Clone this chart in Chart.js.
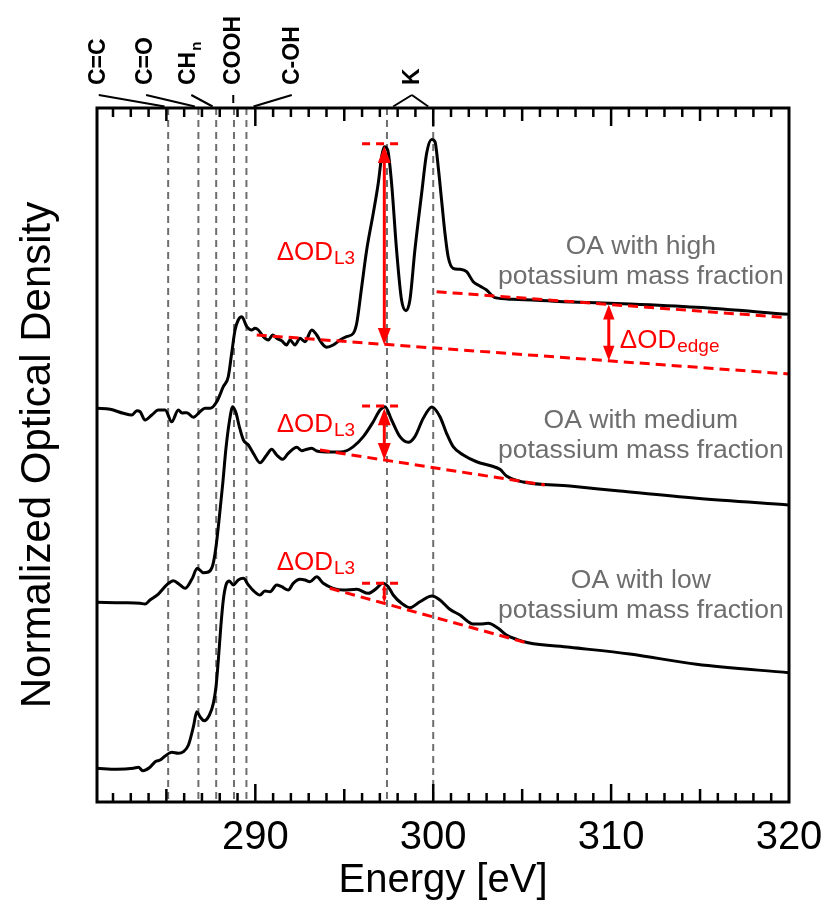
<!DOCTYPE html>
<html>
<head>
<meta charset="utf-8">
<script src="https://cdn.jsdelivr.net/npm/chart.js@4.4.1/dist/chart.umd.min.js"></script>
<style>
  html, body { margin: 0; padding: 0; background: #fff; }
</style>
</head>
<body>
<canvas id="xanesChart" width="826" height="909"></canvas>
<script>
// photon energy (eV) and normalized OD
var highE = [281.1, 281.84, 282.58, 283.06, 283.34, 283.52, 283.8, 284.18, 284.55, 284.93,
    285.3, 285.67, 285.88, 286.15, 286.52, 286.89, 287.17, 287.46, 287.83, 288.2,
    288.48, 288.67, 288.86, 289.04, 289.24, 289.52, 289.8, 289.98, 290.17, 290.45,
    290.73, 290.98, 291.2, 291.48, 291.76, 291.95, 292.23, 292.51, 292.79, 293.17,
    293.45, 293.73, 294.01, 294.38, 294.76, 295.13, 295.51, 295.7, 295.98, 296.26,
    296.63, 296.91, 297.1, 297.25, 297.44, 297.66, 297.94, 298.22, 298.47, 298.69,
    298.97, 299.35, 299.63, 299.91, 300.1, 300.28, 300.47, 300.66, 300.84, 301.12,
    301.5, 301.88, 302.25, 302.62, 303.0, 303.47, 304.49, 307.3, 311.05, 314.8,
    320.0];
var highOD = [5.673, 5.659, 5.601, 5.576, 5.638, 5.624, 5.504, 5.576, 5.648, 5.648,
    5.48, 5.648, 5.605, 5.61, 5.543, 5.624, 5.673, 5.673, 5.768, 5.984,
    6.128, 6.465, 6.801, 6.945, 6.993, 6.849, 6.801, 6.826, 6.801, 6.705,
    6.657, 6.729, 6.681, 6.647, 6.585, 6.657, 6.585, 6.681, 6.633, 6.801,
    6.729, 6.614, 6.552, 6.585, 6.657, 6.705, 6.754, 6.898, 7.425, 7.954,
    8.483, 8.915, 9.298, 9.442, 9.395, 8.915, 7.954, 7.233, 7.079, 7.233,
    7.954, 8.771, 9.347, 9.546, 9.514, 9.154, 8.674, 8.195, 7.857, 7.69,
    7.676, 7.641, 7.497, 7.435, 7.378, 7.267, 7.244, 7.209, 7.176, 7.128,
    7.027];

var medE = [281.1, 282.58, 283.52, 283.8, 284.08, 284.55, 285.02, 285.39, 285.77, 286.05,
    286.43, 286.74, 287.08, 287.36, 287.61, 287.79, 287.98, 288.17, 288.35, 288.54,
    288.73, 288.92, 289.1, 289.33, 289.61, 289.89, 290.26, 290.64, 290.92, 291.2,
    291.54, 291.85, 292.33, 292.61, 292.89, 293.17, 293.45, 294.2, 294.94, 295.51,
    296.07, 296.63, 297.01, 297.29, 297.66, 298.13, 298.6, 298.97, 299.44, 299.93,
    300.38, 300.75, 301.12, 301.69, 302.44, 303.28, 303.75, 304.12, 305.06, 307.68,
    310.49, 314.8, 320.0];
var medOD = [2.878, 2.872, 2.863, 2.853, 2.911, 2.997, 3.127, 3.189, 3.127, 3.079,
    3.209, 3.367, 3.304, 3.314, 3.415, 3.679, 4.111, 4.592, 5.097, 5.48,
    5.696, 5.601, 5.408, 5.216, 5.144, 5.024, 4.889, 5.0, 5.082, 5.0,
    4.938, 5.024, 5.111, 5.062, 5.082, 5.097, 5.058, 5.043, 5.048, 5.12,
    5.264, 5.48, 5.648, 5.696, 5.504, 5.264, 5.183, 5.264, 5.529, 5.692,
    5.552, 5.313, 5.12, 5.0, 4.903, 4.841, 4.794, 4.697, 4.611, 4.553,
    4.481, 4.376, 4.28];

var lowE = [281.1, 282.21, 283.15, 283.43, 283.67, 284.08, 284.37, 284.65, 284.93, 285.3,
    285.67, 285.96, 286.24, 286.52, 286.71, 286.89, 287.12, 287.42, 287.64, 287.79,
    287.92, 288.06, 288.2, 288.35, 288.54, 288.76, 289.04, 289.33, 289.61, 289.89,
    290.26, 290.54, 290.83, 291.2, 291.48, 291.85, 292.13, 292.51, 292.79, 293.07,
    293.45, 293.82, 294.38, 294.94, 295.7, 296.35, 296.82, 297.16, 297.47, 297.75,
    298.22, 298.69, 299.25, 299.93, 300.38, 300.93, 301.5, 302.25, 302.62, 303.09,
    303.65, 304.12, 304.69, 305.34, 307.68, 311.05, 314.8, 320.0];
var lowOD = [0.486, 0.471, 0.486, 0.5, 0.451, 0.5, 0.581, 0.605, 0.663, 0.716,
    0.702, 0.725, 0.821, 1.085, 1.301, 1.229, 1.171, 1.254, 1.422, 1.661,
    2.046, 2.526, 2.911, 3.127, 3.184, 3.127, 3.199, 3.223, 3.127, 3.045,
    2.983, 3.04, 3.03, 3.127, 3.102, 3.055, 3.151, 3.209, 3.199, 3.174,
    3.246, 3.151, 3.079, 3.055, 3.065, 3.007, 3.079, 3.151, 3.102, 2.983,
    2.863, 2.8, 2.886, 2.968, 2.911, 2.777, 2.695, 2.565, 2.565, 2.575,
    2.503, 2.406, 2.344, 2.295, 2.229, 2.133, 1.984, 1.863];

// baselines (red dashed)
var highPreE = [290.08, 320.0], highPreOD = [6.729, 6.167];
var highPostE = [300.19, 320.0], highPostOD = [7.353, 6.978];
var medPreE = [293.63, 306.27], medPreOD = [5.072, 4.568];
var lowPreE = [294.19, 305.34], lowPreOD = [3.079, 2.287];

// delta OD L3 markers (high, medium, low)
var l3E = 297.25;
var l3Top = [9.452, 5.673, 3.141];
var l3Bottom = [6.585, 4.928, 2.872];
var l3Cap = [9.486, 5.706, 3.151];
var l3CapE = [296.0, 298.2];
var edgeE = 309.87;

var xTickLabels = [290, 300, 310, 320];
var peakLines = [285.1, 286.8, 287.8, 288.8, 289.5, 297.4, 300.0];
var groupNames = ['C=C', 'C=O', 'CH', 'COOH', 'C-OH', 'K'];
var groupLabelE = [281.22, 283.86, 286.28, 288.8, 292.09, 298.83];
var connectors = [[281.2, 284.9], [283.86, 286.6], [286.4, 287.6], [288.76, 288.76],
    [292.05, 289.9], [298.8, 297.75], [298.8, 299.72]];
var seriesNames = [['OA with high', 'potassium mass fraction'],
    ['OA with medium', 'potassium mass fraction'],
    ['OA with low', 'potassium mass fraction']];

// text anchors in data units
var nameAt = [[311.67, 7.997], [311.67, 5.49], [311.67, 3.184]];
var l3TextAt = [[291.2, 7.81], [291.2, 5.336], [291.2, 3.343]];
var edgeTextAt = [310.49, 6.537];

var FONT = 'Arial, "Liberation Sans", Helvetica, sans-serif';
var RED = '#ff0000';

function pts(xs, ys) {
    return xs.map(function(x, i) { return { x: x, y: ys[i] }; });
}

function interp(xs, ys, x) {
    return ys[0] + (ys[1] - ys[0]) * (x - xs[0]) / (xs[1] - xs[0]);
}

function spectrum(data) {
    return {
        data: data,
        borderColor: '#000',
        borderWidth: 3,
        pointRadius: 0,
        cubicInterpolationMode: 'monotone',
        order: 2
    };
}

function baseline(data) {
    return {
        data: data,
        borderColor: RED,
        borderWidth: 3,
        borderDash: [10, 6],
        pointRadius: 0,
        order: 1
    };
}

function vArrow(ctx, x, y1, y2, head) {
    var w = head * 0.38;
    ctx.beginPath();
    ctx.moveTo(x, y1 + head * 0.7);
    ctx.lineTo(x, y2 - head * 0.7);
    ctx.stroke();
    ctx.beginPath();
    ctx.moveTo(x, y1);
    ctx.lineTo(x - w, y1 + head);
    ctx.lineTo(x + w, y1 + head);
    ctx.closePath();
    ctx.fill();
    ctx.beginPath();
    ctx.moveTo(x, y2);
    ctx.lineTo(x - w, y2 - head);
    ctx.lineTo(x + w, y2 - head);
    ctx.closePath();
    ctx.fill();
}

function deltaLabel(ctx, px, py, sub) {
    ctx.textAlign = 'left';
    ctx.textBaseline = 'alphabetic';
    ctx.font = '26px ' + FONT;
    ctx.fillText('\u0394OD', px, py);
    var w = ctx.measureText('\u0394OD').width;
    ctx.font = '19px ' + FONT;
    ctx.fillText(sub, px + w + 1, py + 4);
}

var decor = {
    id: 'decor',
    beforeDatasetsDraw: function(chart) {
        var ctx = chart.ctx, a = chart.chartArea, x = chart.scales.x;
        ctx.save();
        ctx.strokeStyle = '#6e6e6e';
        ctx.lineWidth = 2;
        ctx.setLineDash([7, 5]);
        peakLines.forEach(function(e) {
            var px = x.getPixelForValue(e);
            ctx.beginPath();
            ctx.moveTo(px, a.top);
            ctx.lineTo(px, a.bottom);
            ctx.stroke();
        });
        ctx.restore();
    },
    afterDatasetsDraw: function(chart) {
        var ctx = chart.ctx, a = chart.chartArea, x = chart.scales.x, y = chart.scales.y;
        ctx.save();

        // frame
        ctx.strokeStyle = '#000';
        ctx.lineWidth = 3;
        ctx.strokeRect(a.left, a.top, a.right - a.left, a.bottom - a.top);

        // inward ticks, top and bottom
        ctx.lineWidth = 2.5;
        for (var e = Math.ceil(x.min); e < x.max; e++) {
            var len = e % 10 === 0 ? 18 : (e % 5 === 0 ? 13 : 9);
            var px = x.getPixelForValue(e);
            ctx.beginPath();
            ctx.moveTo(px, a.top);
            ctx.lineTo(px, a.top + len);
            ctx.moveTo(px, a.bottom);
            ctx.lineTo(px, a.bottom - len);
            ctx.stroke();
        }

        // functional group connectors and labels
        ctx.lineWidth = 2;
        connectors.forEach(function(c) {
            var short = c[0] === c[1];
            ctx.beginPath();
            ctx.moveTo(x.getPixelForValue(c[0]), a.top - 13);
            ctx.lineTo(x.getPixelForValue(c[1]), short ? a.top - 5 : a.top - 1.5);
            ctx.stroke();
        });
        ctx.fillStyle = '#000';
        groupNames.forEach(function(name, i) {
            ctx.save();
            ctx.translate(x.getPixelForValue(groupLabelE[i]), a.top - 23);
            ctx.rotate(-Math.PI / 2);
            ctx.textAlign = 'left';
            ctx.textBaseline = 'middle';
            ctx.font = 'bold 23px ' + FONT;
            ctx.fillText(name, 0, 0);
            if (name === 'CH') {
                var w = ctx.measureText(name).width;
                ctx.font = 'bold 15px ' + FONT;
                ctx.fillText('n', w + 1, 8);
            }
            ctx.restore();
        });

        // delta OD L3 markers
        ctx.strokeStyle = RED;
        ctx.fillStyle = RED;
        for (var i = 0; i < 3; i++) {
            var ax = x.getPixelForValue(l3E);
            var t = y.getPixelForValue(l3Top[i]);
            var b = y.getPixelForValue(l3Bottom[i]);
            var cy = y.getPixelForValue(l3Cap[i]);
            ctx.lineWidth = 3;
            ctx.setLineDash([8, 6]);
            ctx.beginPath();
            ctx.moveTo(x.getPixelForValue(l3CapE[0]), cy);
            ctx.lineTo(x.getPixelForValue(l3CapE[1]), cy);
            ctx.stroke();
            ctx.setLineDash([]);
            vArrow(ctx, ax, t, b, Math.min(17, (b - t) / 3));
            deltaLabel(ctx, x.getPixelForValue(l3TextAt[i][0]), y.getPixelForValue(l3TextAt[i][1]), 'L3');
        }

        // delta OD edge
        var ex = x.getPixelForValue(edgeE);
        var ey1 = y.getPixelForValue(interp(highPostE, highPostOD, edgeE));
        var ey2 = y.getPixelForValue(interp(highPreE, highPreOD, edgeE));
        ctx.lineWidth = 3;
        vArrow(ctx, ex, ey1, ey2, 15);
        deltaLabel(ctx, x.getPixelForValue(edgeTextAt[0]), y.getPixelForValue(edgeTextAt[1]), 'edge');

        // sample names
        ctx.fillStyle = '#6e6e6e';
        ctx.font = '26.5px ' + FONT;
        ctx.textAlign = 'center';
        ctx.textBaseline = 'middle';
        seriesNames.forEach(function(lines, k) {
            var nx = x.getPixelForValue(nameAt[k][0]);
            var ny = y.getPixelForValue(nameAt[k][1]);
            lines.forEach(function(s, j) { ctx.fillText(s, nx, ny + j * 30); });
        });

        ctx.restore();
    }
};

var ctx = document.getElementById('xanesChart').getContext('2d');
var xanesChart = new Chart(ctx, {
    type: 'line',
    data: {
        datasets: [
            spectrum(pts(highE, highOD)),
            spectrum(pts(medE, medOD)),
            spectrum(pts(lowE, lowOD)),
            baseline(pts(highPreE, highPreOD)),
            baseline(pts(highPostE, highPostOD)),
            baseline(pts(medPreE, medPreOD)),
            baseline(pts(lowPreE, lowPreOD))
        ]
    },
    options: {
        responsive: false,
        animation: false,
        layout: {
            padding: { left: 0, right: 37, top: 108, bottom: 0 }
        },
        plugins: {
            legend: { display: false },
            tooltip: { enabled: false }
        },
        scales: {
            x: {
                type: 'linear',
                min: 281.1,
                max: 320,
                afterBuildTicks: function(s) {
                    s.ticks = xTickLabels.map(function(v) { return { value: v }; });
                },
                afterFit: function(s) {
                    s.height = 107;
                    // let the last label hang into the right padding
                    s.paddingLeft = 0;
                    s.paddingRight = 0;
                },
                ticks: {
                    font: { size: 40, family: FONT },
                    color: '#000',
                    padding: 12,
                    maxRotation: 0,
                    autoSkip: false
                },
                grid: { display: false, drawTicks: false },
                border: { display: false },
                title: {
                    display: true,
                    text: 'Energy [eV]',
                    color: '#000',
                    font: { size: 40, family: FONT },
                    padding: { top: 0, bottom: 4 }
                }
            },
            y: {
                min: 0,
                max: 10,
                afterFit: function(s) { s.width = 97; },
                ticks: { display: false },
                grid: { display: false, drawTicks: false },
                border: { display: false },
                title: {
                    display: true,
                    text: 'Normalized Optical Density',
                    color: '#000',
                    font: { size: 42, family: FONT },
                    padding: { top: 13, bottom: 0 }
                }
            }
        }
    },
    plugins: [decor]
});
</script>
</body>
</html>
